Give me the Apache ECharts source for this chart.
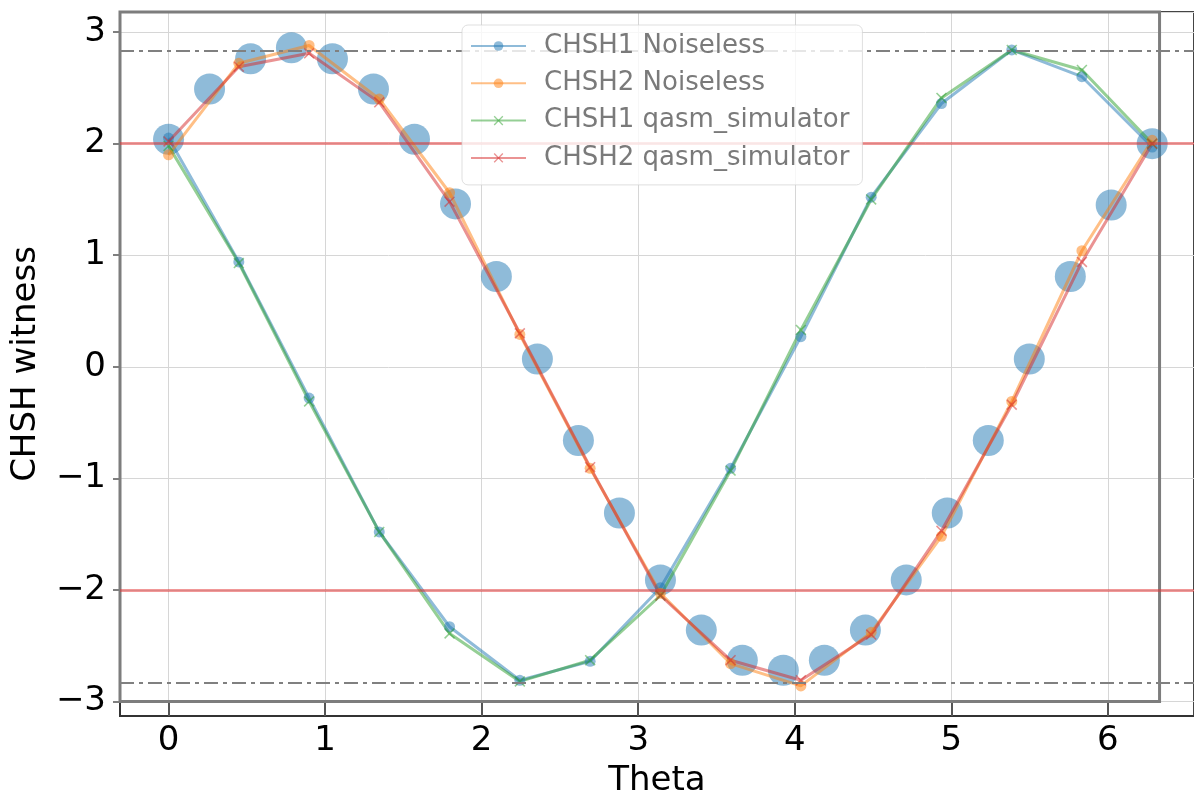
<!DOCTYPE html>
<html>
<head>
<meta charset="utf-8">
<script src="https://cdn.jsdelivr.net/npm/echarts@6/dist/echarts.min.js"></script>
<style>
html,body{margin:0;padding:0;background:#fff;}
#chart{width:1194px;height:793px;}
</style>
</head>
<body>
<div id="chart"></div>
<script>
// ---- data ----
var theta = [0, 0.449, 0.898, 1.346, 1.795, 2.244, 2.693, 3.142, 3.590, 4.039, 4.488, 4.937, 5.386, 5.834, 6.283];
var chsh1Noiseless = [2.05, 0.94, -0.28, -1.48, -2.33, -2.81, -2.64, -1.98, -0.91, 0.27, 1.52, 2.36, 2.84, 2.60, 1.97];
var chsh2Noiseless = [1.90, 2.72, 2.88, 2.40, 1.56, 0.29, -0.91, -2.03, -2.66, -2.86, -2.38, -1.52, -0.31, 1.04, 2.03];
var chsh1Qasm = [1.98, 0.93, -0.31, -1.48, -2.39, -2.82, -2.63, -2.05, -0.93, 0.33, 1.50, 2.41, 2.84, 2.66, 2.00];
var chsh2Qasm = [2.02, 2.69, 2.81, 2.37, 1.48, 0.30, -0.90, -2.05, -2.63, -2.81, -2.40, -1.47, -0.34, 0.94, 2.00];
var thetaFine = [0, 0.262, 0.524, 0.785, 1.047, 1.309, 1.571, 1.833, 2.094, 2.356, 2.618, 2.880, 3.142, 3.403, 3.665, 3.927, 4.189, 4.451, 4.712, 4.974, 5.236, 5.498, 5.760, 6.021, 6.283];
var chsh2Big = [2.04, 2.49, 2.76, 2.86, 2.76, 2.49, 2.04, 1.46, 0.81, 0.07, -0.66, -1.31, -1.91, -2.36, -2.63, -2.72, -2.63, -2.36, -1.91, -1.31, -0.66, 0.07, 0.81, 1.45, 2.00];
var classicalBounds = [2, -2];
var quantumBounds = [2.83, -2.83];
var seriesNames = ['CHSH1 Noiseless', 'CHSH2 Noiseless', 'CHSH1 qasm_simulator', 'CHSH2 qasm_simulator'];
var xTitle = 'Theta';
var yTitle = 'CHSH witness';
var xRange = [-0.31, 6.55];
var yRange = [-3.13, 3.18];
var innerBox = { x: [-0.31, 6.33], y: [-3.0, 3.18] };

// ---- chart ----
function pairs(xs, ys) { return xs.map(function (x, i) { return [x, ys[i]]; }); }
function fmt(v) {
  if (Math.abs(v - Math.round(v)) > 1e-6) return '';
  return String(Math.round(v)).replace('-', '\u2212');
}
var xSym = 'path://M1,0 L5,4 L9,0 L10,1 L6,5 L10,9 L9,10 L5,6 L1,10 L0,9 L4,5 L0,1 Z';
var FONT = 'DejaVu Sans';
var colors = ['#1f77b4', '#ff7f0e', '#2ca02c', '#d62728'];

function lineSeries(name, ys, color, symbol) {
  return {
    name: name, type: 'line', data: pairs(theta, ys),
    symbol: symbol, symbolSize: 11,
    showAllSymbol: true,
    lineStyle: { color: color, width: 3, opacity: 0.5 },
    itemStyle: { color: color, opacity: 0.5 },
    emphasis: { disabled: true },
    z: 3
  };
}

var chart = echarts.init(document.getElementById('chart'), null, { renderer: 'canvas' });
var option = {
  animation: false,
  backgroundColor: '#fff',
  textStyle: { fontFamily: FONT },
  grid: { left: 120, right: 0, top: 12, bottom: 77, containLabel: false, outerBoundsMode: 'none', show: true, borderColor: '#444', borderWidth: 2, backgroundColor: 'rgba(0,0,0,0)' },
  legend: {
    data: seriesNames,
    orient: 'vertical',
    left: 462, top: 25,
    padding: [7, 13, 13, 8],
    itemWidth: 55, itemHeight: 12, itemGap: 9.3,
    backgroundColor: 'rgba(255,255,255,0.8)',
    borderColor: 'rgba(210,210,210,0.7)', borderWidth: 1, borderRadius: 6,
    textStyle: { fontFamily: FONT, fontSize: 26, color: '#7a7a7a', lineHeight: 28, padding: [0, 0, 0, 13] },
    z: 10
  },
  xAxis: {
    type: 'value', min: xRange[0], max: xRange[1],
    name: xTitle, nameLocation: 'middle', nameGap: 48,
    nameTextStyle: { fontFamily: FONT, fontSize: 34, color: '#000' },
    axisLine: { show: true, onZero: false, lineStyle: { color: '#333', width: 2 } },
    axisTick: { show: true, inside: true, length: 14, lineStyle: { color: '#555', width: 2 } },
    axisLabel: { show: true, fontFamily: FONT, fontSize: 34, color: '#000', margin: 8, formatter: fmt, showMinLabel: false, showMaxLabel: false },
    splitLine: { show: true, lineStyle: { color: '#d6d6d6', width: 1 } }
  },
  yAxis: {
    type: 'value', min: yRange[0], max: yRange[1],
    name: yTitle, nameLocation: 'middle', nameGap: 77, nameRotate: 90,
    nameTextStyle: { fontFamily: FONT, fontSize: 34, color: '#000' },
    axisLine: { show: true, onZero: false, lineStyle: { color: '#333', width: 2 } },
    axisTick: { show: true, inside: false, length: 7, lineStyle: { color: '#555', width: 1.5 } },
    axisLabel: { show: true, fontFamily: FONT, fontSize: 34, color: '#000', margin: 14, formatter: fmt, showMinLabel: false, showMaxLabel: false },
    splitLine: { show: true, lineStyle: { color: '#d6d6d6', width: 1 } }
  },
  series: [
    {
      name: 'theory', type: 'scatter', data: pairs(thetaFine, chsh2Big),
      symbol: 'circle', symbolSize: 31,
      itemStyle: { color: '#1f77b4', opacity: 0.5 },
      emphasis: { disabled: true },
      z: 2,
      markArea: {
        silent: true,
        itemStyle: { color: 'rgba(0,0,0,0)', borderColor: '#7d7d7d', borderWidth: 3 },
        data: [[{ xAxis: innerBox.x[0], yAxis: innerBox.y[0] }, { xAxis: innerBox.x[1], yAxis: innerBox.y[1] }]]
      },
      markLine: {
        silent: true, symbol: 'none', label: { show: false },
        data: classicalBounds.map(function (v) {
          return { yAxis: v, lineStyle: { color: 'rgba(228,50,50,0.5)', width: 3, type: 'solid' } };
        }).concat(quantumBounds.map(function (v) {
          return { yAxis: v, lineStyle: { color: '#808080', width: 2, type: [14, 5, 4, 5] } };
        }))
      }
    },
    lineSeries(seriesNames[0], chsh1Noiseless, colors[0], 'circle'),
    lineSeries(seriesNames[1], chsh2Noiseless, colors[1], 'circle'),
    lineSeries(seriesNames[2], chsh1Qasm, colors[2], xSym),
    lineSeries(seriesNames[3], chsh2Qasm, colors[3], xSym)
  ]
};
chart.setOption(option);
</script>
</body>
</html>
